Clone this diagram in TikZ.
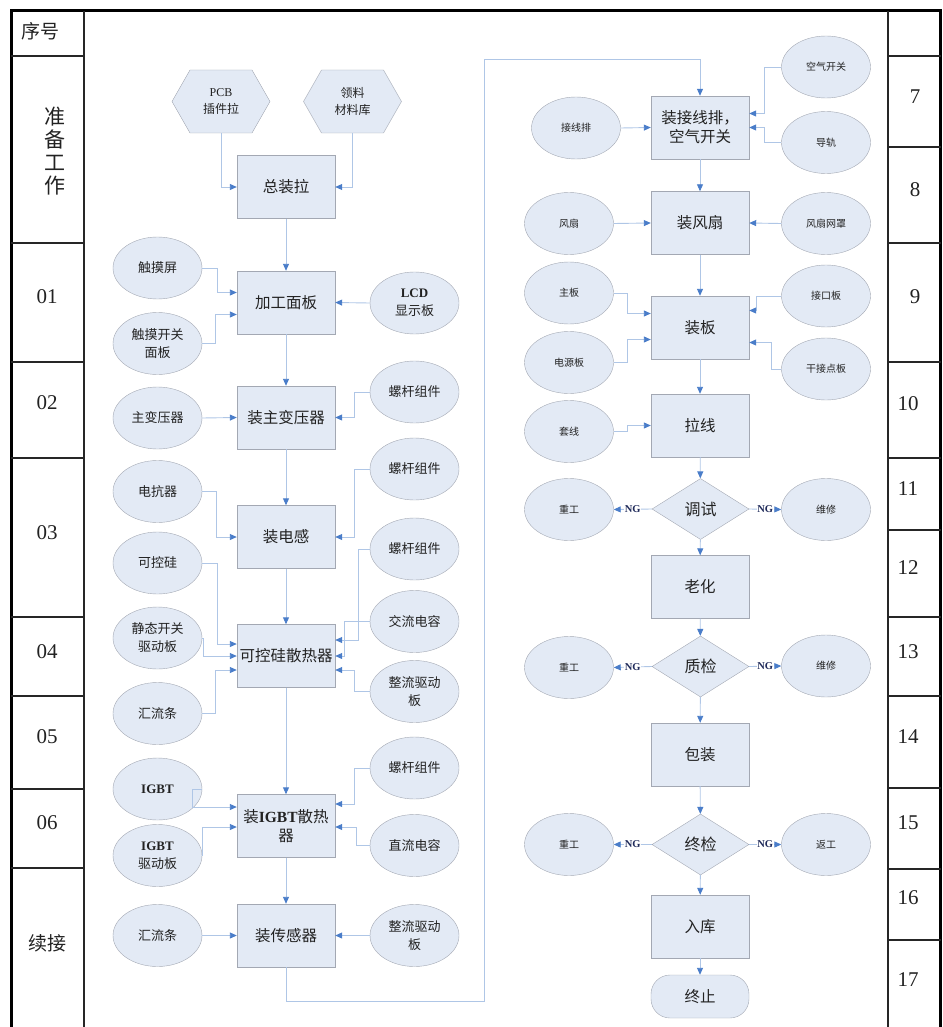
\documentclass[tikz,border=0pt]{standalone}
\usepackage{fontspec}
\setmainfont{Liberation Serif}
\newfontfamily\cjk{Noto Sans CJK SC}
\usetikzlibrary{shapes.geometric,arrows.meta,calc}
\definecolor{nfill}{HTML}{E3EAF5}
\definecolor{nborder}{HTML}{A3A8B3}
\definecolor{lineblue}{HTML}{AFC6E6}
\definecolor{tipblue}{HTML}{4A7DC9}
\definecolor{txt}{HTML}{222222}
\definecolor{ngtxt}{HTML}{1F2A5A}
\begin{document}
\begin{tikzpicture}[x=1pt,y=-1pt,
 box/.style={draw=nborder, fill=nfill, minimum width=98pt, minimum height=63pt, inner sep=1pt, font=\cjk\fontsize{15.5}{19}\selectfont, text=txt, align=center},
 ell/.style={ellipse, draw=nborder, fill=nfill, minimum width=89pt, minimum height=62pt, inner sep=0pt, font=\cjk\fontsize{13}{18}\selectfont, text=txt, align=center},
 ells/.style={ell, font=\cjk\fontsize{10}{12}\selectfont},
 dia/.style={diamond, draw=nborder, fill=nfill, minimum width=97pt, minimum height=61pt, inner sep=0pt, font=\cjk\fontsize{16}{18}\selectfont, text=txt},
 hexn/.style={minimum width=98pt, minimum height=63pt, inner sep=0pt, font=\cjk\fontsize{12}{17}\selectfont, text=txt, align=center},
 hexdraw/.style={draw=nborder, fill=nfill},
 con/.style={draw=lineblue, line width=0.9pt, -{Triangle[length=7pt,width=6pt,color=tipblue]}},
 ng/.style={fill=white, inner sep=0.5pt, font=\bfseries\fontsize{10.5}{11}\selectfont, text=ngtxt},
 num/.style={font=\fontsize{21}{22}\selectfont, text=txt},
 hd/.style={font=\cjk\fontsize{19}{23}\selectfont, text=txt, align=center},
 tline/.style={line width=2pt, draw=black!85},
]
\useasboundingbox (0,0) rectangle (942,1027);
\clip (0,0) rectangle (942,1027);

% ---------- table ----------
\draw[line width=3pt] (11,1040) -- (11,11) -- (940.5,11) -- (940.5,1040);
\draw[tline] (84,11) -- (84,1040);
\draw[tline] (888,11) -- (888,1040);
\foreach \yy in {56,243,362,458,617,696,789,868}{\draw[tline] (11,\yy) -- (84,\yy);}
\foreach \yy in {56,147,243,362,458,530,617,696,788,869,940}{\draw[tline] (888,\yy) -- (940.5,\yy);}

\node[hd] (hxh) at (40,31) {序号};
\node[hd, font=\cjk\fontsize{21}{23}\selectfont] (hzb) at (55,151) {准\\备\\工\\作};
\node[num] (n01) at (47,297) {01};
\node[num] (n02) at (47,403) {02};
\node[num] (n03) at (47,533) {03};
\node[num] (n04) at (47,652) {04};
\node[num] (n05) at (47,737) {05};
\node[num] (n06) at (47,823) {06};
\node[hd] (hxj) at (47,943) {续接};
\node[num] (n7) at (915,97) {7};
\node[num] (n8) at (915,190) {8};
\node[num] (n9) at (915,297) {9};
\node[num] (n10) at (908,404) {10};
\node[num] (n11) at (908,489) {11};
\node[num] (n12) at (908,568) {12};
\node[num] (n13) at (908,652) {13};
\node[num] (n14) at (908,737) {14};
\node[num] (n15) at (908,823) {15};
\node[num] (n16) at (908,898) {16};
\node[num] (n17) at (908,980) {17};

% ---------- left flow ----------
\coordinate (pcbc) at (221,101.5);
\coordinate (llc) at (352.5,101.5);
\filldraw[hexdraw] ($(pcbc)+(-49,0)$) -- ++(18,-31.5) -- ++(62,0) -- ++(18,31.5) -- ++(-18,31.5) -- ++(-62,0) -- cycle;
\filldraw[hexdraw] ($(llc)+(-49,0)$) -- ++(18,-31.5) -- ++(62,0) -- ++(18,31.5) -- ++(-18,31.5) -- ++(-62,0) -- cycle;
\node[hexn] (pcb) at (pcbc) {{\rmfamily PCB}\\插件拉};
\node[hexn] (ll) at (llc) {领料\\材料库};

\node[box] (zz) at (286,187) {总装拉};
\node[box] (jg) at (286,302.5) {加工面板};
\node[box] (zby) at (286,417.5) {装主变压器};
\node[box] (zdg) at (286,537) {装电感};
\node[box] (kgs) at (286,656) {可控硅散热器};
\node[box] (igbtr) at (286,826) {装{\rmfamily\bfseries IGBT}散热\\器};
\node[box] (zcg) at (286,935.5) {装传感器};

\node[ell] (chm) at (157.5,268) {触摸屏};
\node[ell] (chmk) at (157.5,343.5) {触摸开关\\面板};
\node[ell] (lcd) at (414.5,303) {{\rmfamily\bfseries LCD}\\显示板};
\node[ell] (zbyq) at (157.5,418) {主变压器};
\node[ell] (lg1) at (414.5,392) {螺杆组件};
\node[ell] (dkq) at (157.5,491.5) {电抗器};
\node[ell] (lg2) at (414.5,469) {螺杆组件};
\node[ell] (kg) at (157.5,563) {可控硅};
\node[ell] (jt) at (157.5,638) {静态开关\\驱动板};
\node[ell] (hlt) at (157.5,713.5) {汇流条};
\node[ell] (lg3) at (414.5,549) {螺杆组件};
\node[ell] (jldr) at (414.5,621.5) {交流电容};
\node[ell] (zldb) at (414.5,691.5) {整流驱动\\板};
\node[ell] (igbt) at (157.5,789) {{\rmfamily\bfseries IGBT}};
\node[ell] (igbtd) at (157.5,855.5) {{\rmfamily\bfseries IGBT}\\驱动板};
\node[ell] (lg4) at (414.5,768) {螺杆组件};
\node[ell] (zldr) at (414.5,845.5) {直流电容};
\node[ell] (hlt2) at (157.5,935.5) {汇流条};
\node[ell] (zldb2) at (414.5,935.5) {整流驱动\\板};

\draw[con] (pcb.south) |- (zz.west);
\draw[con] (ll.south) |- (zz.east);
\draw[con] (zz) -- (jg);
\draw[con] (chm.east) -- ++(15,0) |- ($(jg.west)+(0,-10)$);
\draw[con] (chmk.east) -- ++(13,0) |- ($(jg.west)+(0,12)$);
\draw[con] (lcd.west) -- (jg.east);
\draw[con] (jg) -- (zby);
\draw[con] (zbyq.east) -- (zby.west);
\draw[con] (lg1.west) -- ++(-15,0) |- (zby.east);
\draw[con] (zby) -- (zdg);
\draw[con] (dkq.east) -- ++(14,0) |- (zdg.west);
\draw[con] (lg2.west) -- ++(-15,0) |- (zdg.east);
\draw[con] (zdg) -- (kgs);
\draw[con] (kg.east) -- ++(15,0) |- ($(kgs.west)+(0,-12)$);
\draw[con] (jt.east) -- ++(1,0) |- (kgs.west);
\draw[con] (hlt.east) -- ++(13,0) |- ($(kgs.west)+(0,14)$);
\draw[con] (lg3.west) -- ++(-11,0) |- ($(kgs.east)+(0,-16)$);
\draw[con] (jldr.west) -- ++(-25,0) |- (kgs.east);
\draw[con] (zldb.west) -- ++(-15,0) |- ($(kgs.east)+(0,14)$);
\draw[con] (kgs) -- (igbtr);
\draw[con] (igbt.east) -- ++(-10,0) |- ($(igbtr.west)+(0,-19)$);
\draw[con] (igbtd.east) |- ($(igbtr.west)+(0,1)$);
\draw[con] (lg4.west) -- ++(-15,0) |- ($(igbtr.east)+(0,-22)$);
\draw[con] (zldr.west) -- ++(-13,0) |- ($(igbtr.east)+(0,1)$);
\draw[con] (igbtr) -- (zcg);
\draw[con] (hlt2.east) -- (zcg.west);
\draw[con] (zldb2.west) -- (zcg.east);

% ---------- right flow ----------
\node[box] (jxp) at (700,127.5) {装接线排，\\空气开关};
\node[box] (zfs) at (700,223) {装风扇};
\node[box] (zb) at (700,327.5) {装板};
\node[box] (lx) at (700,425.5) {拉线};
\node[dia] (ts) at (700.5,509) {调试};
\node[box] (lh) at (700,587) {老化};
\node[dia] (zj) at (700.5,666.5) {质检};
\node[box] (bz) at (700,754.5) {包装};
\node[dia] (zjj) at (700.5,844.5) {终检};
\node[box] (rk) at (700,926.5) {入库};
\node[box, rounded corners=19pt, minimum height=43pt] (stop) at (700,996.5) {终止};

\node[ells] (jxpe) at (576,128) {接线排};
\node[ells] (kqkg) at (826,67) {空气开关};
\node[ells] (dg) at (826,142.5) {导轨};
\node[ells] (fs) at (569,223.5) {风扇};
\node[ells] (fswz) at (826,223.5) {风扇网罩};
\node[ells] (zhub) at (569,293) {主板};
\node[ells] (dyb) at (569,362.5) {电源板};
\node[ells] (jkb) at (826,296) {接口板};
\node[ells] (gjd) at (826,369) {干接点板};
\node[ells] (tx) at (569,431.5) {套线};
\node[ells] (cg1) at (569,509.5) {重工};
\node[ells] (wx1) at (826,509.5) {维修};
\node[ells] (cg2) at (569,667.5) {重工};
\node[ells] (wx2) at (826,666) {维修};
\node[ells] (cg3) at (569,844.5) {重工};
\node[ells] (fg) at (826,844.5) {返工};

\coordinate (c1) at (484,1001);
\coordinate (c2) at (484,59);
\draw[con] (zcg.south) |- (c1) -- (c2) -| (jxp.north);

\draw[con] (jxpe.east) -- (jxp.west);
\draw[con] (kqkg.west) -- ++(-17,0) |- ($(jxp.east)+(0,-14)$);
\draw[con] (dg.west) -- ++(-17,0) |- (jxp.east);
\draw[con] (jxp) -- (zfs);
\draw[con] (fs.east) -- (zfs.west);
\draw[con] (fswz.west) -- (zfs.east);
\draw[con] (zfs) -- (zb);
\draw[con] (zhub.east) -- ++(14,0) |- ($(zb.west)+(0,-14)$);
\draw[con] (dyb.east) -- ++(14,0) |- ($(zb.west)+(0,12)$);
\draw[con] (jkb.west) -- ++(-25,0) |- ($(zb.east)+(0,-17)$);
\draw[con] (gjd.west) -- ++(-10,0) |- ($(zb.east)+(0,15)$);
\draw[con] (zb) -- (lx);
\draw[con] (tx.east) -- ++(14,0) |- (lx.west);
\draw[con] (lx) -- (ts);
\draw[con] (ts.west) -- node[ng]{NG} (cg1.east);
\draw[con] (ts.east) -- node[ng]{NG} (wx1.west);
\draw[con] (ts) -- (lh);
\draw[con] (lh) -- (zj);
\draw[con] (zj.west) -- node[ng]{NG} (cg2.east);
\draw[con] (zj.east) -- node[ng]{NG} (wx2.west);
\draw[con] (zj) -- (bz);
\draw[con] (bz) -- (zjj);
\draw[con] (zjj.west) -- node[ng]{NG} (cg3.east);
\draw[con] (zjj.east) -- node[ng]{NG} (fg.west);
\draw[con] (zjj) -- (rk);
\draw[con] (rk) -- (stop);
\end{tikzpicture}
\end{document}
